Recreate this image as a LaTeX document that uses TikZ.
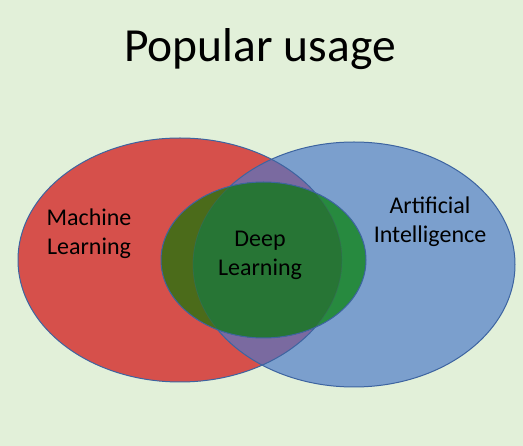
\documentclass[tikz,border=0pt]{standalone}
\usepackage{fontspec}
\setmainfont{Carlito}
\definecolor{bgc}{HTML}{E2F0D9}
\definecolor{redc}{HTML}{D6504B}
\definecolor{bluec}{HTML}{7B9FCD}
\definecolor{purplec}{HTML}{7A6AA0}
\definecolor{olivec}{HTML}{4B6B1A}
\definecolor{dgreenc}{HTML}{277535}
\definecolor{bgreenc}{HTML}{278A3F}
\definecolor{edgec}{HTML}{3D64A0}
\tikzset{
  outl/.style={draw=edgec, line width=1pt},
  lbl/.style={align=center, font=\fontsize{24}{29}\selectfont, inner sep=0pt},
}
\begin{document}
\begin{tikzpicture}[x=1pt,y=-1pt]
\useasboundingbox (0,0) rectangle (523,446);
\fill[bgc] (0,0) rectangle (523,446);
\def\redE{(180,260) ellipse [x radius=162, y radius=122]}
\def\blueE{(354,264.5) ellipse [x radius=161, y radius=122.5]}
\def\greenE{(263.5,260) ellipse [x radius=102.5, y radius=78]}
% base fills
\fill[redc] \redE;
\fill[bluec] \blueE;
\begin{scope}
  \clip \redE;
  \fill[purplec] \blueE;
\end{scope}
\draw[outl] \redE;
\draw[outl] \blueE;
% green
\fill[bgreenc] \greenE;
\begin{scope}
  \clip \redE;
  \fill[olivec] \greenE;
  \clip \blueE;
  \fill[dgreenc] \greenE;
\end{scope}
\begin{scope}
  \clip \greenE;
  \draw[edgec, line width=0.8pt, opacity=0.25] \redE;
  \draw[edgec, line width=0.8pt, opacity=0.25] \blueE;
\end{scope}
\draw[outl] \greenE;
% texts
\node[anchor=base, font=\fontsize{47.5}{57}\selectfont, inner sep=0pt] (title) at (260,62) {Popular usage};
\node[lbl] (ml) at (89,234) {Machine\\Learning};
\node[lbl] (dl) at (260,255) {Deep\\Learning};
\node[lbl] (ai) at (430,222) {Artificial\\Intelligence};
\end{tikzpicture}
\end{document}
